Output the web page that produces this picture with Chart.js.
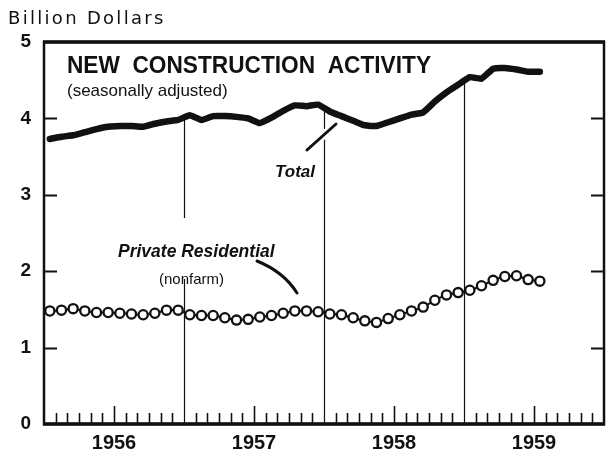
<!DOCTYPE html>
<html>
<head>
<meta charset="utf-8">
<script src="https://cdn.jsdelivr.net/npm/chart.js@4.4.1/dist/chart.umd.min.js"></script>
<style>
  html, body { margin: 0; padding: 0; background: #fff; }
  #wrap { position: relative; width: 608px; height: 459px; }
</style>
</head>
<body>
<div id="wrap"><canvas id="c" width="608" height="459"></canvas></div>
<script>
// ---- data ----
const years = ['1956', '1957', '1958', '1959'];
const monthNames = ['Jan','Feb','Mar','Apr','May','Jun','Jul','Aug','Sep','Oct','Nov','Dec'];
const categories = [];
years.forEach(y => monthNames.forEach(m => categories.push(m + ' ' + y)));

// Total new construction (billion dollars, seasonally adjusted), Jan 1956 - Jul 1959
const totalValues = [
  3.73, 3.76, 3.78, 3.82, 3.86, 3.89, 3.90, 3.90, 3.89, 3.93, 3.96, 3.98,
  4.04, 3.98, 4.03, 4.03, 4.02, 4.00, 3.94, 4.01, 4.10, 4.17, 4.16, 4.18,
  4.09, 4.03, 3.97, 3.91, 3.90, 3.95, 4.00, 4.05, 4.08, 4.22, 4.34, 4.44,
  4.54, 4.52, 4.65, 4.66, 4.64, 4.61, 4.61
];
// Private residential (nonfarm)
const residentialValues = [
  1.48, 1.49, 1.51, 1.48, 1.46, 1.46, 1.45, 1.44, 1.43, 1.45, 1.49, 1.49,
  1.43, 1.42, 1.42, 1.39, 1.36, 1.37, 1.40, 1.42, 1.45, 1.48, 1.48, 1.47,
  1.44, 1.43, 1.39, 1.35, 1.33, 1.38, 1.43, 1.48, 1.53, 1.62, 1.69, 1.72,
  1.75, 1.81, 1.88, 1.93, 1.94, 1.89, 1.87
];
const yTickValues = [0, 1, 2, 3, 4, 5];

const INK = '#111';

const decor = {
  id: 'decor',
  beforeDatasetsDraw(chart) {
    const ctx = chart.ctx;
    const xs = chart.scales.x, ys = chart.scales.y;
    const a = chart.chartArea;
    ctx.save();
    // year separators: from total line down to baseline
    for (let k = 1; k < years.length; k++) {
      const b = k * 12 - 0.5;
      const i0 = k * 12 - 1, i1 = k * 12;
      const v = (totalValues[i0] + totalValues[i1]) / 2;
      const x = Math.round(xs.getPixelForValue(b)) + 0.5;
      ctx.strokeStyle = INK;
      ctx.lineWidth = 1.2;
      ctx.beginPath();
      ctx.moveTo(x, ys.getPixelForValue(v));
      ctx.lineTo(x, a.bottom);
      ctx.stroke();
    }
    // white backing behind the residential label block
    ctx.fillStyle = '#fff';
    ctx.fillRect(112, 218, 170, 61);
    // month ticks along bottom (pointing up)
    ctx.strokeStyle = INK;
    ctx.lineWidth = 1.6;
    for (let i = 0; i < categories.length - 1; i++) {
      const b = i + 0.5;
      if ((i + 1) % 12 === 0) continue;
      const tall = (i + 1) % 12 === 6;
      const x = Math.round(xs.getPixelForValue(b)) + 0.5;
      ctx.beginPath();
      ctx.moveTo(x, a.bottom);
      ctx.lineTo(x, a.bottom - (tall ? 18 : 11));
      ctx.stroke();
    }
    // y ticks inward on both sides
    ctx.lineWidth = 2;
    yTickValues.forEach(v => {
      if (v === 0 || v === 5) return;
      const y = Math.round(ys.getPixelForValue(v)) + 0.5;
      ctx.beginPath();
      ctx.moveTo(a.left, y); ctx.lineTo(a.left + 13, y);
      ctx.moveTo(a.right - 13, y); ctx.lineTo(a.right, y);
      ctx.stroke();
    });
    // frame
    ctx.lineWidth = 2.5;
    ctx.strokeRect(a.left, a.top, a.right - a.left, a.bottom - a.top);
    ctx.lineWidth = 3.5;
    ctx.beginPath();
    ctx.moveTo(a.left - 1, a.bottom); ctx.lineTo(a.right + 1, a.bottom);
    ctx.moveTo(a.left - 1, a.top); ctx.lineTo(a.right + 1, a.top);
    ctx.stroke();
    ctx.restore();
  },
  afterDatasetsDraw(chart) {
    const ctx = chart.ctx;
    ctx.save();
    ctx.fillStyle = INK;
    ctx.textBaseline = 'alphabetic';
    ctx.textAlign = 'left';
    // Unit label
    ctx.font = '18px "DejaVu Sans"';
    if ('letterSpacing' in ctx) ctx.letterSpacing = '2.3px';
    ctx.fillText('Billion Dollars', 8, 24, 160);
    if ('letterSpacing' in ctx) ctx.letterSpacing = '0px';
    // Title
    ctx.font = 'bold 24px "Liberation Sans"';
    ctx.fillText('NEW  CONSTRUCTION  ACTIVITY', 67, 73, 364);
    ctx.font = '17px "Liberation Sans"';
    ctx.fillText('(seasonally adjusted)', 67, 96, 166);
    // Total label
    ctx.font = 'italic bold 17px "Liberation Sans"';
    ctx.fillText('Total', 275, 177, 42);
    // Total pointer with white halo
    ctx.lineCap = 'round';
    ctx.strokeStyle = '#fff';
    ctx.lineWidth = 8;
    ctx.beginPath(); ctx.moveTo(307, 150); ctx.lineTo(336, 124); ctx.stroke();
    ctx.strokeStyle = INK;
    ctx.lineWidth = 3;
    ctx.beginPath(); ctx.moveTo(307, 150); ctx.lineTo(336, 124); ctx.stroke();
    // Residential label
    ctx.font = 'italic bold 17.5px "Liberation Sans"';
    ctx.fillText('Private Residential', 118, 257, 158);
    ctx.font = '15px "Liberation Sans"';
    ctx.fillText('(nonfarm)', 159, 284, 67);
    // curved pointer
    ctx.lineWidth = 3;
    ctx.beginPath();
    ctx.moveTo(257, 261);
    ctx.quadraticCurveTo(284, 272, 297, 293);
    ctx.stroke();
    ctx.restore();
  }
};

new Chart(document.getElementById('c'), {
  type: 'line',
  data: {
    labels: categories,
    datasets: [
      {
        label: 'Total',
        data: totalValues,
        borderColor: INK,
        borderWidth: 6.5,
        pointRadius: 0,
        tension: 0.15,
        borderCapStyle: 'round',
        borderJoinStyle: 'round',
        fill: false
      },
      {
        label: 'Private Residential (nonfarm)',
        data: residentialValues,
        borderColor: INK,
        borderWidth: 2,
        pointRadius: 4.6,
        pointBorderWidth: 2.3,
        pointBackgroundColor: '#fff',
        pointBorderColor: INK,
        tension: 0.15,
        fill: false
      }
    ]
  },
  options: {
    responsive: false,
    animation: false,
    devicePixelRatio: 1,
    layout: { autoPadding: false, padding: { top: 42, right: 4, left: 0, bottom: 0 } },
    plugins: { legend: { display: false }, tooltip: { enabled: false }, title: { display: false } },
    scales: {
      x: {
        type: 'category',
        offset: true,
        grid: { display: false, drawTicks: false },
        border: { display: false },
        ticks: {
          autoSkip: false,
          maxRotation: 0,
          minRotation: 0,
          padding: 7,
          labelOffset: -560 / 96,
          color: INK,
          font: { family: 'Liberation Sans', size: 20, weight: 'bold' },
          callback: (v, i) => (i % 12 === 6 ? years[Math.floor(i / 12)] : '')
        },
        afterFit: s => { s.height = 35; s.paddingLeft = 0; s.paddingRight = 0; }
      },
      y: {
        type: 'linear',
        min: 0,
        max: 5,
        afterBuildTicks: s => { s.ticks = yTickValues.map(v => ({ value: v })); },
        grid: { display: false, drawTicks: false },
        border: { display: false },
        ticks: {
          padding: 13,
          color: INK,
          font: { family: 'Liberation Sans', size: 19, weight: 'bold' }
        },
        afterFit: s => { s.width = 44; }
      }
    }
  },
  plugins: [decor]
});
</script>
</body>
</html>
